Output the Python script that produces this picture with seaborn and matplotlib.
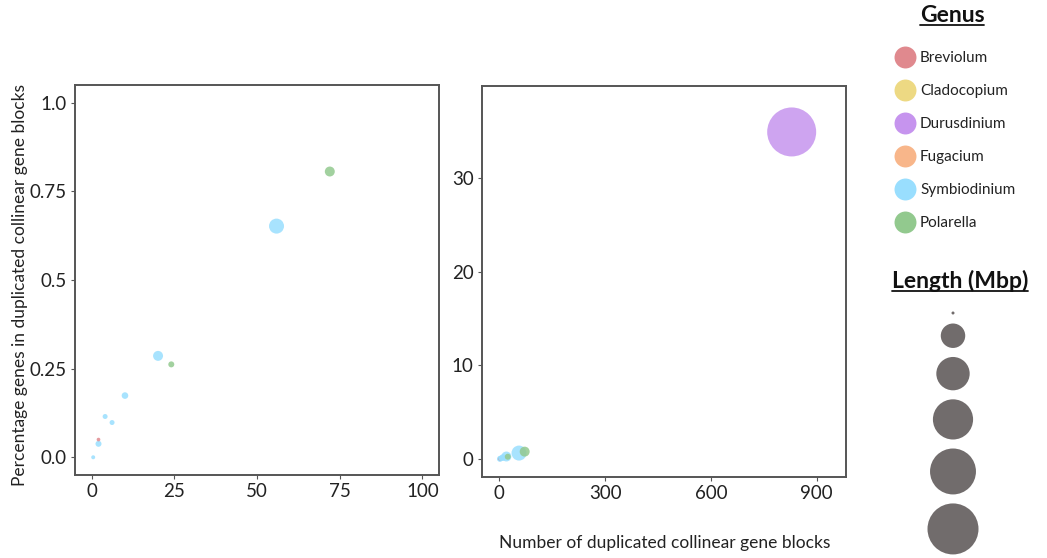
import numpy as np
import pandas as pd
import matplotlib
matplotlib.use("Agg")
import matplotlib.pyplot as plt
from matplotlib.lines import Line2D
import seaborn as sns

# values
genus_order = ["Breviolum", "Cladocopium", "Durusdinium", "Fugacium", "Symbiodinium", "Polarella"]
genus_colors = ["#E0898E", "#EDD983", "#C694EE", "#F8B68A", "#99DEFE", "#92C98E"]

genus = ["Symbiodinium", "Symbiodinium", "Breviolum", "Symbiodinium", "Symbiodinium",
         "Symbiodinium", "Symbiodinium", "Polarella", "Symbiodinium", "Polarella", "Durusdinium"]
n_blocks = [0.5, 2.1, 2.1, 4.1, 6.2, 10.1, 20.1, 24.1, 55.9, 72.0, 829.0]
pct_genes = [0.0, 0.038, 0.05, 0.115, 0.098, 0.174, 0.286, 0.262, 0.652, 0.806, 34.9]
length_mbp = [0.4, 3.9, 0.2, 1.7, 1.7, 5.6, 21.0, 3.9, 62.5, 21.0, 918.0]

size_breaks = [0, 200, 400, 600, 800, 1000]

df = pd.DataFrame({"genus": genus, "blocks": n_blocks, "pct": pct_genes, "length": length_mbp})
palette = dict(zip(genus_order, genus_colors))

W, H = 1047, 558
DPI = 100


def radius_px(v):
    # ggplot-like area scale: radius grows with sqrt of the value
    return 1.5 + 24.0 * np.sqrt(v / max(size_breaks))


def area_pt(v):
    d = 2 * radius_px(v) * 72 / DPI
    return d * d


sns.set_theme(style="white")
plt.rcParams["font.family"] = ["Lato", "DejaVu Sans"]

fig = plt.figure(figsize=(W / DPI, H / DPI), dpi=DPI)


def px_axes(x0, y0, x1, y1):
    return fig.add_axes([x0 / W, 1 - y1 / H, (x1 - x0) / W, (y1 - y0) / H])


ax1 = px_axes(75, 85, 439, 475)
ax2 = px_axes(482, 86, 846, 477)

size_map = {v: area_pt(v) for v in df["length"].unique()}

for ax in (ax1, ax2):
    sns.scatterplot(data=df, x="blocks", y="pct", hue="genus", palette=palette,
                    size="length", sizes=size_map, alpha=0.85, linewidth=0,
                    legend=False, ax=ax)
    ax.set_xlabel("")
    ax.set_ylabel("")
    for sp in ax.spines.values():
        sp.set_color("#555555")
        sp.set_linewidth(1.4)
    ax.tick_params(axis="both", which="both", bottom=True, left=True, length=3,
                   width=0.8, color="#555555", labelsize=13.5, labelcolor="#222222", pad=3)

ax1.set_xlim(-5, 105)
ax1.set_ylim(-0.05, 1.05)
ax1.set_xticks([0, 25, 50, 75, 100])
ax1.set_yticks([0, 0.25, 0.5, 0.75, 1.0])
ax1.set_yticklabels(["0.0", "0.25", "0.5", "0.75", "1.0"])

ax2.set_xlim(-49, 983)
ax2.set_ylim(-1.9, 39.8)
ax2.set_xticks([0, 300, 600, 900])
ax2.set_yticks([0, 10, 20, 30])

fig.text(20 / W, 1 - 285 / H, "Percentage genes in duplicated collinear gene blocks",
         rotation=90, ha="center", va="center", fontsize=12.5, color="#222222")
fig.text(665 / W, 1 - 543 / H, "Number of duplicated collinear gene blocks",
         ha="center", va="center", fontsize=12.5, color="#222222")

# genus legend
handles = [Line2D([], [], marker="o", ls="", markersize=15.8, markerfacecolor=c,
                  markeredgewidth=0) for c in genus_colors]
fig.legend(handles, genus_order, loc="upper left", bbox_to_anchor=(894 / W, 1 - 51 / H),
           frameon=False, fontsize=11, handlelength=1.5, handletextpad=0.2,
           labelspacing=1.25, borderpad=0, borderaxespad=0, labelcolor="#222222")

t1 = fig.text(952 / W, 1 - 16 / H, "Genus", ha="center", va="center",
              fontsize=16.5, fontweight="bold", color="#111111")
t2 = fig.text(960 / W, 1 - 281 / H, "Length (Mbp)", ha="center", va="center",
              fontsize=16.5, fontweight="bold", color="#111111")

# size legend, stacked circles without labels
axl = px_axes(900, 300, 1010, 556)
axl.set_xlim(0, 110)
axl.set_ylim(256, 0)
axl.axis("off")
radii = radius_px(np.array(size_breaks, dtype=float))
centers = [13.0]
for i in range(1, len(radii)):
    centers.append(centers[-1] + radii[i - 1] + 9 + radii[i])
leg_df = pd.DataFrame({"x": [53] * len(size_breaks), "y": centers, "length": size_breaks})
sns.scatterplot(data=leg_df, x="x", y="y", size="length",
                sizes={v: area_pt(v) for v in size_breaks}, color="#716C6C",
                linewidth=0, legend=False, ax=axl)

# underline titles
fig.canvas.draw()
r = fig.canvas.get_renderer()
for t in (t1, t2):
    bb = t.get_window_extent(renderer=r).transformed(fig.transFigure.inverted())
    fig.add_artist(Line2D([bb.x0, bb.x1], [bb.y0 + 0.002, bb.y0 + 0.002],
                          transform=fig.transFigure, color="#111111", lw=1.3))

fig.savefig("out.png", dpi=DPI)
